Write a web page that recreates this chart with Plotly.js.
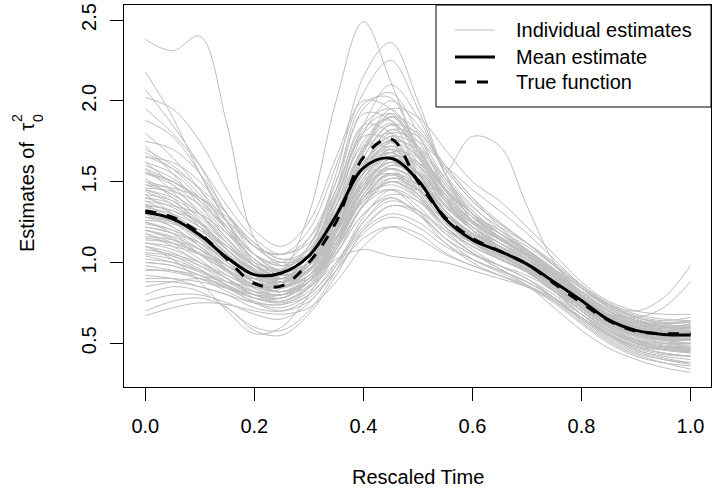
<!DOCTYPE html>
<html>
<head>
<meta charset="utf-8">
<script src="https://cdn.plot.ly/plotly-3.0.1.min.js"></script>
<style>html,body{margin:0;padding:0;background:#fff;}#chart{width:712px;height:495px;}</style>
</head>
<body>
<div id="chart"></div>
<script>
// Rescaled time grid
const timeGrid = [0,0.05,0.1,0.15,0.2,0.25,0.3,0.35,0.4,0.45,0.5,0.55,0.6,0.65,0.7,0.75,0.8,0.85,0.9,0.95,1];

// Mean estimate and true function
const meanEstimate = [1.31,1.27,1.17,1.03,0.925,0.935,1.04,1.29,1.585,1.645,1.51,1.27,1.14,1.07,0.99,0.88,0.765,0.645,0.58,0.555,0.552];
const trueFunction = [1.32,1.28,1.18,1.02,0.87,0.855,1.0,1.25,1.65,1.765,1.50,1.28,1.15,1.07,0.99,0.87,0.75,0.64,0.575,0.56,0.56];

// Individual estimates
const indiv01 = [2.38,2.31,2.40,1.85,1.15,0.98,1.05,1.30,1.62,1.75,1.55,1.32,1.18,1.08,1.00,0.90,0.78,0.66,0.60,0.58,0.57];
const indiv02 = [1.35,1.28,1.15,1.00,0.92,0.95,1.30,2.00,2.49,2.12,1.70,1.40,1.20,1.08,0.98,0.86,0.74,0.64,0.58,0.55,0.54];
const indiv03 = [1.20,1.15,1.05,0.95,0.90,0.95,1.10,1.55,2.15,2.36,2.00,1.55,1.25,1.10,1.00,0.88,0.76,0.66,0.60,0.57,0.55];
const indiv04 = [2.18,1.90,1.55,1.25,1.05,1.00,1.15,1.50,1.95,2.05,1.80,1.45,1.25,1.12,1.02,0.90,0.78,0.68,0.62,0.60,0.62];
const indiv05 = [2.07,1.85,1.60,1.30,1.10,1.05,1.20,1.60,2.05,2.25,1.95,1.55,1.30,1.15,1.05,0.95,0.82,0.70,0.63,0.60,0.60];
const indiv06 = [2.02,1.95,1.75,1.45,1.20,1.10,1.25,1.65,2.00,1.95,1.70,1.45,1.28,1.18,1.08,0.95,0.82,0.70,0.62,0.58,0.56];
const indiv07 = [1.95,1.80,1.60,1.35,1.15,1.05,1.15,1.45,1.85,2.10,1.90,1.55,1.35,1.20,1.08,0.96,0.84,0.72,0.64,0.62,0.63];
const indiv08 = [1.88,1.78,1.55,1.25,1.00,0.90,1.00,1.35,1.80,2.00,1.85,1.60,1.40,1.22,1.08,0.94,0.80,0.68,0.60,0.56,0.55];
const indiv09 = [1.75,1.70,1.55,1.30,1.05,0.95,1.05,1.40,1.75,1.90,1.75,1.50,1.30,1.15,1.05,0.93,0.80,0.68,0.60,0.56,0.54];
const indiv10 = [1.70,1.60,1.45,1.25,1.05,0.98,1.10,1.45,1.85,1.95,1.72,1.45,1.28,1.18,1.08,0.96,0.84,0.74,0.67,0.64,0.66];
const indiv11 = [1.65,1.62,1.50,1.30,1.10,1.00,1.05,1.30,1.65,1.85,1.80,1.60,1.40,1.25,1.12,0.98,0.84,0.72,0.64,0.60,0.58];
const indiv12 = [1.62,1.55,1.40,1.20,1.02,0.95,1.05,1.35,1.70,1.80,1.62,1.40,1.25,1.15,1.05,0.92,0.78,0.66,0.58,0.54,0.52];
const indiv13 = [1.58,1.50,1.38,1.22,1.05,0.95,1.00,1.25,1.60,1.78,1.65,1.45,1.30,1.20,1.10,0.98,0.86,0.75,0.68,0.65,0.64];
const indiv14 = [1.55,1.48,1.35,1.18,1.00,0.90,0.95,1.25,1.65,1.85,1.70,1.42,1.22,1.10,1.00,0.88,0.75,0.64,0.57,0.54,0.53];
const indiv15 = [1.50,1.45,1.32,1.15,0.98,0.90,0.98,1.30,1.72,1.90,1.70,1.40,1.20,1.08,0.98,0.86,0.73,0.62,0.55,0.52,0.50];
const indiv16 = [1.48,1.42,1.30,1.12,0.95,0.88,0.98,1.28,1.60,1.70,1.55,1.32,1.18,1.08,0.98,0.86,0.74,0.63,0.56,0.53,0.52];
const indiv17 = [1.45,1.40,1.28,1.12,0.98,0.92,1.00,1.28,1.62,1.75,1.60,1.38,1.22,1.10,1.00,0.88,0.75,0.64,0.57,0.55,0.56];
const indiv18 = [1.42,1.38,1.25,1.08,0.92,0.85,0.92,1.20,1.55,1.70,1.58,1.38,1.22,1.12,1.02,0.90,0.78,0.66,0.58,0.54,0.52];
const indiv19 = [1.40,1.36,1.22,1.05,0.90,0.85,0.95,1.25,1.58,1.68,1.50,1.28,1.15,1.05,0.96,0.85,0.72,0.60,0.52,0.48,0.46];
const indiv20 = [1.38,1.30,1.18,1.02,0.88,0.82,0.90,1.18,1.52,1.65,1.52,1.32,1.18,1.10,1.02,0.90,0.76,0.64,0.56,0.52,0.50];
const indiv21 = [1.35,1.32,1.22,1.08,0.95,0.90,0.98,1.22,1.50,1.62,1.50,1.30,1.16,1.06,0.97,0.86,0.74,0.63,0.56,0.53,0.52];
const indiv22 = [1.32,1.25,1.12,0.98,0.86,0.82,0.92,1.20,1.55,1.72,1.60,1.38,1.20,1.08,0.98,0.86,0.72,0.60,0.52,0.48,0.45];
const indiv23 = [1.30,1.28,1.20,1.08,0.95,0.88,0.92,1.15,1.45,1.60,1.52,1.35,1.22,1.12,1.02,0.90,0.78,0.68,0.62,0.60,0.62];
const indiv24 = [1.28,1.22,1.10,0.95,0.82,0.78,0.88,1.15,1.48,1.62,1.50,1.30,1.15,1.05,0.96,0.84,0.70,0.58,0.50,0.46,0.44];
const indiv25 = [1.25,1.20,1.10,0.98,0.88,0.85,0.95,1.20,1.50,1.58,1.42,1.22,1.10,1.02,0.94,0.83,0.70,0.58,0.50,0.46,0.45];
const indiv26 = [1.22,1.18,1.08,0.95,0.84,0.80,0.90,1.18,1.52,1.68,1.55,1.32,1.16,1.05,0.95,0.82,0.68,0.56,0.48,0.44,0.42];
const indiv27 = [1.20,1.16,1.08,0.98,0.90,0.88,0.98,1.22,1.48,1.55,1.40,1.22,1.12,1.05,0.98,0.88,0.76,0.66,0.60,0.58,0.60];
const indiv28 = [1.18,1.12,1.02,0.90,0.80,0.78,0.88,1.12,1.42,1.58,1.48,1.30,1.15,1.05,0.95,0.82,0.68,0.56,0.48,0.44,0.42];
const indiv29 = [1.15,1.12,1.05,0.95,0.85,0.82,0.90,1.12,1.40,1.55,1.48,1.30,1.18,1.08,0.98,0.86,0.72,0.60,0.52,0.48,0.47];
const indiv30 = [1.12,1.08,1.00,0.90,0.80,0.76,0.85,1.10,1.42,1.55,1.42,1.22,1.08,0.98,0.90,0.78,0.64,0.52,0.44,0.40,0.38];
const indiv31 = [1.10,1.06,0.98,0.88,0.80,0.78,0.88,1.12,1.38,1.45,1.32,1.15,1.05,0.98,0.92,0.82,0.70,0.58,0.50,0.46,0.45];
const indiv32 = [1.08,1.05,1.00,0.92,0.85,0.82,0.88,1.08,1.35,1.50,1.45,1.30,1.18,1.08,0.98,0.86,0.73,0.62,0.55,0.52,0.52];
const indiv33 = [1.05,1.02,0.95,0.86,0.78,0.75,0.82,1.05,1.35,1.50,1.40,1.22,1.10,1.02,0.94,0.82,0.68,0.55,0.46,0.41,0.38];
const indiv34 = [1.02,1.00,0.95,0.88,0.82,0.80,0.85,1.00,1.22,1.35,1.32,1.20,1.10,1.02,0.95,0.84,0.72,0.60,0.52,0.48,0.48];
const indiv35 = [1.00,0.98,0.92,0.85,0.78,0.76,0.84,1.05,1.30,1.40,1.30,1.15,1.05,0.98,0.90,0.80,0.68,0.57,0.50,0.47,0.46];
const indiv36 = [0.98,0.95,0.90,0.82,0.75,0.72,0.80,1.00,1.25,1.38,1.32,1.18,1.06,0.98,0.90,0.78,0.65,0.53,0.45,0.40,0.37];
const indiv37 = [0.95,0.95,0.92,0.88,0.85,0.85,0.90,1.02,1.08,1.04,1.02,1.00,0.95,0.90,0.85,0.78,0.68,0.58,0.52,0.50,0.50];
const indiv38 = [0.92,0.90,0.85,0.80,0.72,0.70,0.78,0.95,1.18,1.28,1.22,1.10,1.02,0.95,0.88,0.78,0.66,0.55,0.48,0.44,0.42];
const indiv39 = [0.88,0.88,0.85,0.80,0.75,0.74,0.80,0.98,1.20,1.30,1.25,1.12,1.02,0.95,0.88,0.78,0.66,0.55,0.48,0.46,0.46];
const indiv40 = [0.85,0.88,0.90,0.85,0.75,0.70,0.76,0.95,1.15,1.22,1.15,1.05,0.98,0.92,0.85,0.76,0.65,0.54,0.46,0.42,0.40];
const indiv41 = [0.80,0.85,0.82,0.72,0.60,0.58,0.70,0.95,1.25,1.40,1.30,1.12,1.00,0.92,0.85,0.75,0.62,0.50,0.42,0.38,0.36];
const indiv42 = [0.76,0.80,0.80,0.75,0.68,0.65,0.75,0.98,1.28,1.45,1.38,1.20,1.06,0.96,0.88,0.78,0.66,0.55,0.47,0.43,0.42];
const indiv43 = [0.70,0.76,0.78,0.72,0.58,0.55,0.68,0.92,1.20,1.35,1.30,1.15,1.02,0.94,0.86,0.76,0.63,0.51,0.43,0.38,0.34];
const indiv44 = [0.67,0.72,0.75,0.74,0.70,0.68,0.72,0.88,1.10,1.22,1.18,1.06,0.98,0.92,0.86,0.77,0.66,0.56,0.49,0.46,0.45];
const indiv45 = [1.25,1.18,1.05,0.92,0.85,0.85,0.95,1.15,1.40,1.50,1.45,1.55,1.78,1.72,1.35,1.00,0.80,0.66,0.58,0.55,0.54];
const indiv46 = [1.30,1.25,1.15,1.02,0.92,0.90,1.00,1.25,1.55,1.65,1.55,1.35,1.20,1.10,1.02,0.92,0.82,0.74,0.70,0.78,0.98];
const indiv47 = [1.45,1.38,1.25,1.08,0.95,0.90,0.98,1.22,1.55,1.68,1.52,1.30,1.18,1.08,1.00,0.88,0.76,0.68,0.66,0.72,0.88];
const indiv48 = [1.10,1.02,0.88,0.70,0.56,0.60,0.80,1.08,1.40,1.55,1.45,1.25,1.12,1.02,0.94,0.82,0.70,0.58,0.50,0.46,0.44];
const indiv49 = [1.00,0.98,0.92,0.84,0.76,0.74,0.84,1.08,1.35,1.45,1.35,1.18,1.06,0.96,0.86,0.72,0.58,0.47,0.40,0.35,0.32];
const indiv50 = [1.55,1.50,1.40,1.25,1.10,1.05,1.12,1.35,1.70,1.95,1.90,1.70,1.50,1.38,1.22,1.05,0.88,0.76,0.70,0.68,0.68];
const indiv51 = [1.68,1.58,1.42,1.22,1.02,0.92,0.98,1.25,1.60,1.80,1.75,1.60,1.45,1.32,1.18,1.02,0.86,0.74,0.66,0.62,0.60];
const indiv52 = [1.80,1.65,1.45,1.20,0.98,0.88,0.95,1.25,1.68,1.92,1.78,1.52,1.32,1.18,1.06,0.93,0.80,0.68,0.60,0.56,0.54];
const indiv53 = [1.28,1.25,1.18,1.05,0.92,0.85,0.92,1.12,1.40,1.52,1.45,1.28,1.15,1.06,0.98,0.88,0.77,0.67,0.61,0.59,0.60];
const indiv54 = [1.38,1.35,1.30,1.18,1.02,0.92,0.95,1.15,1.45,1.65,1.62,1.45,1.28,1.15,1.04,0.90,0.76,0.64,0.57,0.54,0.53];
const indiv55 = [1.12,1.10,1.05,0.98,0.90,0.88,0.96,1.18,1.45,1.58,1.50,1.32,1.18,1.08,0.99,0.88,0.75,0.63,0.55,0.51,0.50];
const indiv56 = [1.60,1.52,1.38,1.20,1.05,0.98,1.05,1.30,1.60,1.72,1.58,1.38,1.24,1.14,1.05,0.94,0.82,0.71,0.64,0.61,0.61];
const indiv57 = [1.52,1.40,1.22,1.05,0.92,0.90,1.05,1.45,1.92,1.88,1.55,1.30,1.15,1.06,0.98,0.88,0.76,0.65,0.58,0.55,0.55];
const indiv58 = [1.42,1.30,1.15,1.00,0.88,0.88,1.05,1.42,1.85,1.80,1.52,1.28,1.14,1.05,0.96,0.85,0.72,0.61,0.54,0.50,0.48];
const indiv59 = [1.30,1.22,1.10,0.96,0.86,0.86,1.02,1.38,1.78,1.75,1.48,1.25,1.12,1.04,0.96,0.86,0.74,0.62,0.55,0.52,0.52];
const indiv60 = [1.62,1.48,1.30,1.12,0.98,0.95,1.10,1.50,1.98,2.02,1.68,1.38,1.20,1.10,1.02,0.90,0.78,0.67,0.60,0.57,0.57];
const indiv61 = [1.18,1.10,1.00,0.90,0.82,0.84,1.00,1.35,1.72,1.70,1.45,1.22,1.10,1.02,0.94,0.83,0.70,0.58,0.51,0.48,0.48];
const indiv62 = [1.72,1.55,1.35,1.15,1.00,0.96,1.08,1.40,1.80,1.88,1.65,1.40,1.25,1.15,1.06,0.95,0.82,0.70,0.63,0.60,0.60];
const indiv63 = [1.36,1.32,1.25,1.12,0.98,0.92,0.98,1.20,1.50,1.68,1.65,1.48,1.30,1.16,1.05,0.92,0.78,0.66,0.58,0.55,0.55];
const indiv64 = [1.46,1.44,1.36,1.20,1.02,0.94,1.00,1.22,1.55,1.75,1.70,1.50,1.32,1.18,1.06,0.93,0.79,0.67,0.59,0.56,0.56];
const indiv65 = [1.26,1.24,1.16,1.04,0.92,0.86,0.92,1.15,1.48,1.66,1.60,1.42,1.26,1.14,1.04,0.92,0.79,0.67,0.60,0.57,0.57];
const indiv66 = [1.16,1.14,1.08,0.98,0.88,0.84,0.92,1.14,1.44,1.60,1.55,1.38,1.22,1.10,1.00,0.88,0.74,0.62,0.54,0.50,0.49];
const indiv67 = [1.06,1.04,0.98,0.90,0.82,0.80,0.90,1.12,1.40,1.55,1.48,1.30,1.16,1.06,0.97,0.86,0.72,0.60,0.52,0.48,0.47];
const indiv68 = [0.96,0.94,0.90,0.84,0.78,0.78,0.88,1.10,1.38,1.50,1.42,1.26,1.12,1.03,0.95,0.84,0.71,0.59,0.51,0.47,0.46];
const indiv69 = [1.48,1.46,1.40,1.28,1.12,1.02,1.05,1.25,1.58,1.78,1.72,1.52,1.34,1.22,1.12,1.00,0.86,0.74,0.66,0.63,0.63];
const indiv70 = [1.34,1.30,1.22,1.10,0.96,0.88,0.94,1.18,1.52,1.70,1.62,1.42,1.26,1.14,1.04,0.92,0.79,0.68,0.61,0.58,0.58];
const indiv71 = [1.24,1.20,1.12,1.00,0.88,0.82,0.88,1.10,1.42,1.60,1.55,1.38,1.22,1.12,1.04,0.93,0.80,0.68,0.60,0.56,0.55];
const indiv72 = [1.14,1.12,1.06,0.96,0.86,0.82,0.88,1.08,1.36,1.52,1.48,1.34,1.20,1.10,1.01,0.90,0.77,0.65,0.57,0.53,0.52];
const indiv73 = [1.56,1.50,1.40,1.26,1.10,1.00,1.04,1.26,1.60,1.82,1.78,1.58,1.38,1.24,1.12,0.98,0.84,0.72,0.64,0.60,0.59];
const indiv74 = [1.66,1.58,1.46,1.30,1.12,1.02,1.08,1.32,1.68,1.90,1.82,1.58,1.38,1.24,1.12,0.99,0.85,0.73,0.65,0.61,0.60];
const indiv75 = [1.40,1.34,1.24,1.10,0.96,0.90,0.98,1.22,1.56,1.74,1.66,1.46,1.30,1.18,1.07,0.94,0.80,0.68,0.60,0.57,0.57];
const indiv76 = [1.20,1.14,1.05,0.94,0.84,0.80,0.88,1.12,1.46,1.64,1.56,1.36,1.20,1.09,0.99,0.87,0.73,0.61,0.53,0.49,0.48];
const indiv77 = [1.10,1.04,0.96,0.86,0.78,0.76,0.86,1.10,1.42,1.58,1.50,1.32,1.17,1.07,0.98,0.86,0.72,0.60,0.52,0.48,0.47];
const indiv78 = [1.32,1.28,1.20,1.06,0.92,0.86,0.92,1.14,1.46,1.62,1.56,1.40,1.26,1.16,1.07,0.96,0.84,0.73,0.66,0.63,0.64];
const indiv79 = [1.50,1.42,1.30,1.14,0.98,0.90,0.96,1.20,1.56,1.76,1.68,1.46,1.28,1.15,1.04,0.91,0.77,0.65,0.57,0.53,0.52];
const indiv80 = [1.04,1.00,0.94,0.86,0.80,0.80,0.90,1.12,1.40,1.54,1.46,1.28,1.14,1.04,0.96,0.86,0.74,0.63,0.56,0.53,0.53];
const indiv81 = [1.28,1.26,1.20,1.10,0.98,0.92,0.98,1.16,1.40,1.48,1.40,1.26,1.16,1.08,1.00,0.90,0.80,0.70,0.64,0.62,0.64];
const indiv82 = [1.44,1.36,1.24,1.08,0.94,0.88,0.96,1.22,1.60,1.82,1.72,1.48,1.30,1.18,1.08,0.96,0.82,0.70,0.62,0.58,0.57];
const indiv83 = [0.90,0.90,0.88,0.84,0.80,0.80,0.88,1.06,1.30,1.42,1.38,1.24,1.12,1.04,0.96,0.86,0.74,0.63,0.56,0.53,0.53];
const indiv84 = [1.58,1.44,1.26,1.08,0.94,0.92,1.06,1.40,1.82,1.92,1.66,1.40,1.24,1.14,1.05,0.94,0.81,0.69,0.62,0.59,0.59];
const indiv85 = [1.22,1.18,1.12,1.02,0.92,0.88,0.96,1.18,1.48,1.62,1.54,1.36,1.22,1.12,1.03,0.91,0.78,0.66,0.58,0.54,0.53];
const indiv86 = [1.36,1.26,1.14,1.00,0.90,0.88,1.00,1.30,1.70,1.86,1.70,1.44,1.26,1.14,1.04,0.92,0.79,0.67,0.59,0.55,0.54];

const individualEstimates = [indiv01,indiv02,indiv03,indiv04,indiv05,indiv06,indiv07,indiv08,indiv09,indiv10,
  indiv11,indiv12,indiv13,indiv14,indiv15,indiv16,indiv17,indiv18,indiv19,indiv20,
  indiv21,indiv22,indiv23,indiv24,indiv25,indiv26,indiv27,indiv28,indiv29,indiv30,
  indiv31,indiv32,indiv33,indiv34,indiv35,indiv36,indiv37,indiv38,indiv39,indiv40,
  indiv41,indiv42,indiv43,indiv44,indiv45,indiv46,indiv47,indiv48,indiv49,indiv50,
  indiv51,indiv52,indiv53,indiv54,indiv55,indiv56,indiv57,indiv58,indiv59,indiv60,
  indiv61,indiv62,indiv63,indiv64,indiv65,indiv66,indiv67,indiv68,indiv69,indiv70,
  indiv71,indiv72,indiv73,indiv74,indiv75,indiv76,indiv77,indiv78,indiv79,indiv80,
  indiv81,indiv82,indiv83,indiv84,indiv85,indiv86];

const xTicks = [0,0.2,0.4,0.6,0.8,1.0];
const xTickLabels = ["0.0","0.2","0.4","0.6","0.8","1.0"];
const yTicks = [0.5,1.0,1.5,2.0,2.5];
const yTickLabels = ["0.5","1.0","1.5","2.0","2.5"];
const legendLabels = ["Individual estimates","Mean estimate","True function"];

const FONT = "Liberation Sans, Arial, Helvetica, sans-serif";
const GRAY = "#BEBEBE";

const traces = [];
individualEstimates.forEach(function(ys){
  traces.push({x: timeGrid, y: ys, type: "scatter", mode: "lines",
    line: {color: GRAY, width: 1, shape: "spline", smoothing: 1}, showlegend: false, hoverinfo: "skip"});
});
traces.push({x: timeGrid, y: meanEstimate, type: "scatter", mode: "lines",
  line: {color: "#000", width: 3, shape: "spline", smoothing: 1}, showlegend: false});
traces.push({x: timeGrid, y: trueFunction, type: "scatter", mode: "lines",
  line: {color: "#000", width: 3, dash: "11px,11px", shape: "spline", smoothing: 1}, showlegend: false});

// pixel helpers for decorations (plot area: x 124..711, y 5..387)
const L = 124, R = 711, T = 5, B = 387;
function px(x){ return (x - L) / (R - L); }
function py(y){ return (B - y) / (B - T); }

const shapes = [
  {type: "rect", xref: "paper", yref: "paper", x0: px(436), x1: px(711), y0: py(107), y1: py(5),
    line: {color: "#000", width: 1}, fillcolor: "#fff", layer: "above"},
  {type: "line", xref: "paper", yref: "paper", x0: px(455), x1: px(495), y0: py(30), y1: py(30),
    line: {color: GRAY, width: 1}},
  {type: "line", xref: "paper", yref: "paper", x0: px(455), x1: px(495), y0: py(57), y1: py(57),
    line: {color: "#000", width: 3}},
  {type: "line", xref: "paper", yref: "paper", x0: px(455), x1: px(497), y0: py(82), y1: py(82),
    line: {color: "#000", width: 3, dash: "11px,11px"}}
];

const annotations = [];
[30, 57, 82].forEach(function(yy, i){
  annotations.push({xref: "paper", yref: "paper", x: px(514), y: py(yy), xanchor: "left", yanchor: "middle",
    text: legendLabels[i], showarrow: false, font: {family: FONT, size: 20, color: "#000"}});
});
// x axis title
annotations.push({xref: "paper", yref: "paper", x: px(417.7), y: py(477), xanchor: "center", yanchor: "middle",
  text: "Rescaled Time", showarrow: false, font: {family: FONT, size: 20, color: "#000"}});
// y axis title with stacked super/subscript
annotations.push({xref: "paper", yref: "paper", x: px(27), y: py(188), xanchor: "center", yanchor: "middle",
  text: "Estimates of\u00a0\u00a0\u03c4", textangle: -90, showarrow: false, font: {family: FONT, size: 20, color: "#000"}});
annotations.push({xref: "paper", yref: "paper", x: px(17), y: py(118), xanchor: "center", yanchor: "middle",
  text: "2", textangle: -90, showarrow: false, font: {family: FONT, size: 14, color: "#000"}});
annotations.push({xref: "paper", yref: "paper", x: px(38), y: py(118), xanchor: "center", yanchor: "middle",
  text: "0", textangle: -90, showarrow: false, font: {family: FONT, size: 14, color: "#000"}});

const layout = {
  width: 712, height: 495,
  margin: {l: L, r: 712 - R, t: T, b: 495 - B, pad: 0},
  paper_bgcolor: "#fff", plot_bgcolor: "#fff",
  showlegend: false,
  font: {family: FONT, size: 20, color: "#000"},
  xaxis: {range: [-0.0391, 1.0376], tickvals: xTicks, ticktext: xTickLabels,
    showgrid: false, zeroline: false, showline: true, mirror: true, linecolor: "#000", linewidth: 1,
    ticks: "outside", ticklen: 13, tickwidth: 1, tickcolor: "#000",
    tickfont: {family: FONT, size: 20, color: "#000"}, ticklabelstandoff: 8},
  yaxis: {range: [0.2297, 2.5928], tickvals: yTicks, ticktext: yTickLabels,
    showgrid: false, zeroline: false, showline: true, mirror: true, linecolor: "#000", linewidth: 1,
    ticks: "outside", ticklen: 13, tickwidth: 1, tickcolor: "#000", tickangle: -90,
    tickfont: {family: FONT, size: 20, color: "#000"}, ticklabelstandoff: 6},
  shapes: shapes,
  annotations: annotations
};

Plotly.newPlot("chart", traces, layout, {staticPlot: true, displayModeBar: false});
</script>
</body>
</html>
